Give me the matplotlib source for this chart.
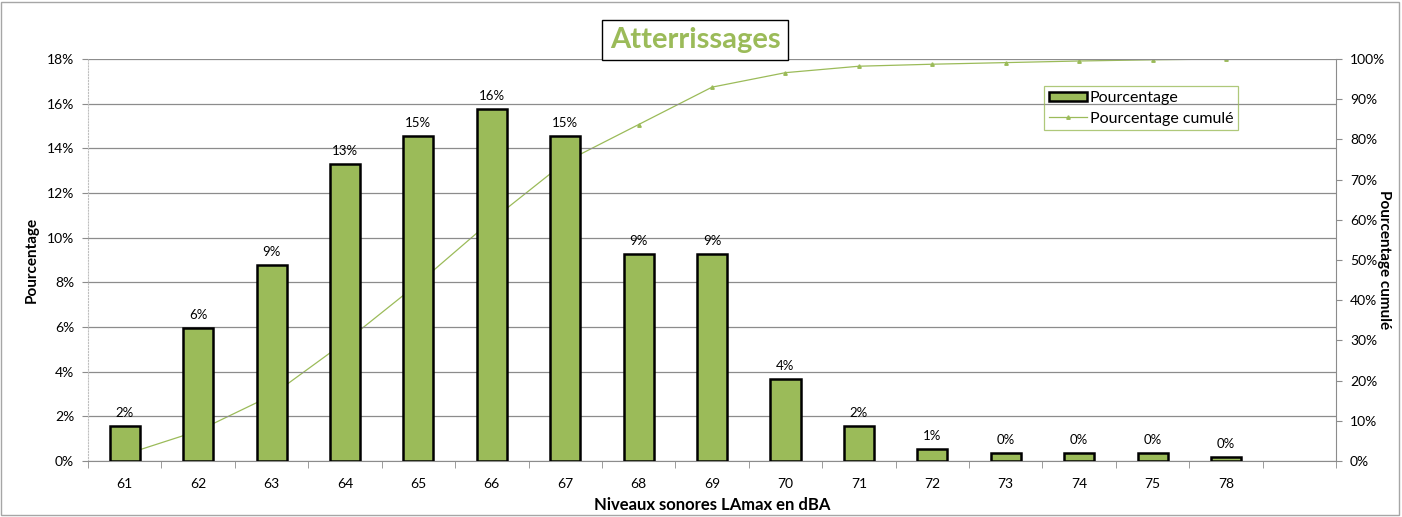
import matplotlib
matplotlib.use("Agg")
import matplotlib.pyplot as plt
from matplotlib.patches import Rectangle
from matplotlib.ticker import FuncFormatter, MultipleLocator
import numpy as np

plt.rcParams['font.family'] = ['Lato', 'DejaVu Sans']

# data
niveaux = ['61', '62', '63', '64', '65', '66', '67', '68', '69', '70',
           '71', '72', '73', '74', '75', '78']
pourcentage = [1.57, 5.96, 8.78, 13.3, 14.55, 15.76, 14.55, 9.27, 9.27, 3.67,
               1.57, 0.54, 0.36, 0.36, 0.36, 0.18]
cumule = [1.6, 7.5, 16.3, 29.6, 44.2, 59.9, 74.4, 83.7, 93.0, 96.6,
          98.2, 98.7, 99.1, 99.5, 99.8, 100.0]

GREEN = '#9BBB59'
GRID = '#8C8C8C'

fig = plt.figure(figsize=(14.02, 5.17), dpi=100)
ax = fig.add_axes([0.0628, 0.1083, 0.8902, 0.7776])
ax2 = ax.twinx()

x = np.arange(len(niveaux))

# cumulative line behind the bars
ax2.plot(x, cumule, color=GREEN, lw=0.9, marker='^', ms=2.5,
         mfc=GREEN, mec=GREEN, label='Pourcentage cumulé')
ax2.set_ylim(0, 100)
ax2.yaxis.set_major_locator(MultipleLocator(10))
ax2.yaxis.set_major_formatter(FuncFormatter(lambda v, p: f"{v:.0f}%"))

ax.set_zorder(ax2.get_zorder() + 1)
ax.patch.set_visible(False)

bars = ax.bar(x, pourcentage, width=0.41, color=GREEN, edgecolor='black',
              linewidth=1.8, label='Pourcentage', zorder=3)
for xi, v in zip(x, pourcentage):
    ax.annotate(f"{v:.0f}%", (xi, v), xytext=(0, 5), textcoords='offset points',
                ha='center', va='bottom', fontsize=9.5)

ax.set_xlim(-0.5, len(niveaux) + 0.5)
ax.set_ylim(0, 18)
ax.yaxis.set_major_locator(MultipleLocator(2))
ax.yaxis.set_major_formatter(FuncFormatter(lambda v, p: f"{v:.0f}%"))
ax.grid(axis='y', color=GRID, lw=0.9, zorder=0)
ax.set_axisbelow(True)

ax.set_xticks(x)
ax.set_xticklabels(niveaux)
ax.set_xticks(np.arange(-0.5, len(niveaux) + 1), minor=True)
ax.tick_params(axis='x', which='major', length=0, pad=12, labelsize=10)
ax.tick_params(axis='x', which='minor', length=5, color=GRID)
ax.tick_params(axis='y', length=4, color=GRID, labelsize=10, pad=6)
ax2.tick_params(axis='y', length=4, color=GRID, labelsize=10, pad=6)

for a in (ax, ax2):
    a.spines['top'].set_visible(False)
ax.spines['right'].set_visible(False)
ax.spines['left'].set_color('#BFBFBF')
ax.spines['left'].set_linestyle(':')
ax.spines['bottom'].set_color(GRID)
ax2.spines['left'].set_visible(False)
ax2.spines['bottom'].set_visible(False)
ax2.spines['right'].set_color(GRID)

ax.set_xlabel('Niveaux sonores LAmax en dBA', fontsize=12, fontweight='bold', labelpad=5)
ax.set_ylabel('Pourcentage', fontsize=11, fontweight='bold', labelpad=6)
ax2.set_ylabel('Pourcentage cumulé', fontsize=11, fontweight='bold',
               rotation=-90, labelpad=4)

h1, l1 = ax.get_legend_handles_labels()
h2, l2 = ax2.get_legend_handles_labels()
leg = ax.legend(h1 + h2, l1 + l2, loc='upper left', bbox_to_anchor=(0.766, 0.932),
                fontsize=11.5, frameon=True, fancybox=False, borderpad=0.3,
                handlelength=2.4, handleheight=0.5, handletextpad=0.15,
                labelspacing=0.4, borderaxespad=0)
leg.get_frame().set_edgecolor(GREEN)
leg.get_frame().set_facecolor('none')
leg.get_frame().set_linewidth(0.9)

fig.text(695 / 1402, 1 - 40 / 517, 'Atterrissages', ha='center', va='center',
         fontsize=21, fontweight='bold', color=GREEN,
         bbox=dict(boxstyle='square,pad=0.25', fc='white', ec='black', lw=1))

fig.patches.append(Rectangle((0.001, 0.004), 0.997, 0.993, transform=fig.transFigure,
                             fill=False, ec='#A6A6A6', lw=1))

fig.savefig('out.png', dpi=100)
